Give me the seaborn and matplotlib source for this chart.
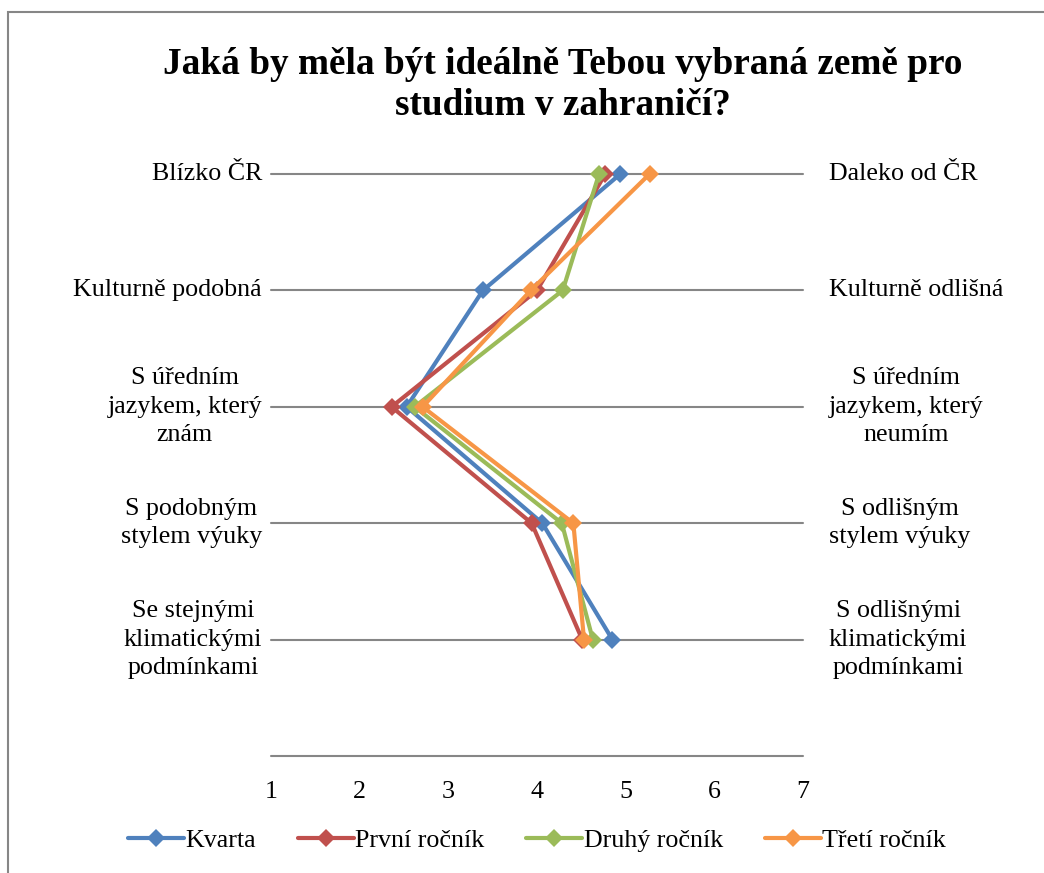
import matplotlib
matplotlib.use("Agg")
import matplotlib.pyplot as plt
import matplotlib.patches as mpatches
import seaborn as sns
import pandas as pd

# Semantic-differential pairs (left pole / right pole), top to bottom
left_labels = [
    "Blízko ČR",
    "Kulturně podobná",
    "S úředním\njazykem, který\nznám",
    "S podobným\nstylem výuky",
    "Se stejnými\nklimatickými\npodmínkami",
]
right_labels = [
    "Daleko od ČR",
    "Kulturně odlišná",
    "S úředním\njazykem, který\nneumím",
    "S odlišným\nstylem výuky",
    "S odlišnými\nklimatickými\npodmínkami",
]

series_names = ["Kvarta", "První ročník", "Druhý ročník", "Třetí ročník"]
kvarta = [4.94, 3.39, 2.53, 4.06, 4.85]
prvni = [4.77, 4.00, 2.36, 3.94, 4.51]
druhy = [4.70, 4.29, 2.62, 4.28, 4.63]
treti = [5.27, 3.93, 2.71, 4.41, 4.53]

x_ticks = [1, 2, 3, 4, 5, 6, 7]
colors = ["#4F81BD", "#C0504D", "#9BBB59", "#F79646"]

# Row positions: first item at the top
row_pos = [5, 4, 3, 2, 1]

rows = []
for name, vals in zip(series_names, [kvarta, prvni, druhy, treti]):
    for i, (v, p) in enumerate(zip(vals, row_pos)):
        rows.append({"series": name, "value": v, "pos": p, "order": i})
df = pd.DataFrame(rows)

sns.set_theme(style="white")
plt.rcParams["font.family"] = ["Liberation Serif", "DejaVu Serif"]
plt.rcParams["text.color"] = "black"
plt.rcParams["xtick.color"] = "black"
plt.rcParams["ytick.color"] = "black"

fig = plt.figure(figsize=(10.44, 8.73), dpi=100)
ax = fig.add_axes([271 / 1044, 1 - 756 / 873, (803 - 271) / 1044, (756 - 174) / 873])

sns.lineplot(
    data=df, x="value", y="pos", hue="series", hue_order=series_names,
    palette=colors, sort=False, estimator=None, marker="D",
    markersize=9, markeredgewidth=0, linewidth=3, ax=ax, legend=True,
)
for ln in ax.lines:
    ln.set_clip_on(False)

ax.set_xlim(1, 7)
ax.set_ylim(0, 5)
ax.set_xticks(x_ticks)
ax.set_xticklabels([str(t) for t in x_ticks], fontsize=18.7, color="black")
ax.set_yticks([0, 1, 2, 3, 4, 5])
ax.set_yticklabels([])
ax.tick_params(axis="both", length=0)
ax.tick_params(axis="x", pad=18)
ax.set_xlabel("")
ax.set_ylabel("")
for s in ax.spines.values():
    s.set_visible(False)

ax.yaxis.grid(True, color="#868686", linewidth=1.5)
ax.xaxis.grid(False)
for gl in ax.get_ygridlines():
    gl.set_clip_on(False)
ax.set_axisbelow(True)

# Pole labels on both sides of each row
ytrans = ax.get_yaxis_transform()
for p, lt, rt in zip(row_pos, left_labels, right_labels):
    ax.text(-9 / 532, p, lt, transform=ytrans, ha="right", va="center",
            multialignment="center", fontsize=18.7, linespacing=1.38, color="black")
    ax.text(1 + 26 / 532, p, rt, transform=ytrans, ha="left", va="center",
            multialignment="center", fontsize=18.7, linespacing=1.38, color="black")

fig.text(0.539, 1 - 47 / 873,
         "Jaká by měla být ideálně Tebou vybraná země pro\nstudium v zahraničí?",
         ha="center", va="top", fontsize=26.8, fontweight="bold", linespacing=1.22,
         color="black")

leg = ax.legend(loc="center", ncol=4, frameon=False, fontsize=18.7, handlelength=2.15,
                handletextpad=0.05, columnspacing=1.62, borderaxespad=0,
                labelcolor="black")
leg.set_bbox_to_anchor((537 / 1044, 1 - 840 / 873), transform=fig.transFigure)

# Outer chart-area frame
fig.patches.append(mpatches.Rectangle((8 / 1044, -0.2), 2, 1.2 - 12 / 873,
                                      transform=fig.transFigure, fill=False,
                                      edgecolor="#868686", linewidth=1.5))

fig.savefig("out.png", dpi=100, facecolor="white")
